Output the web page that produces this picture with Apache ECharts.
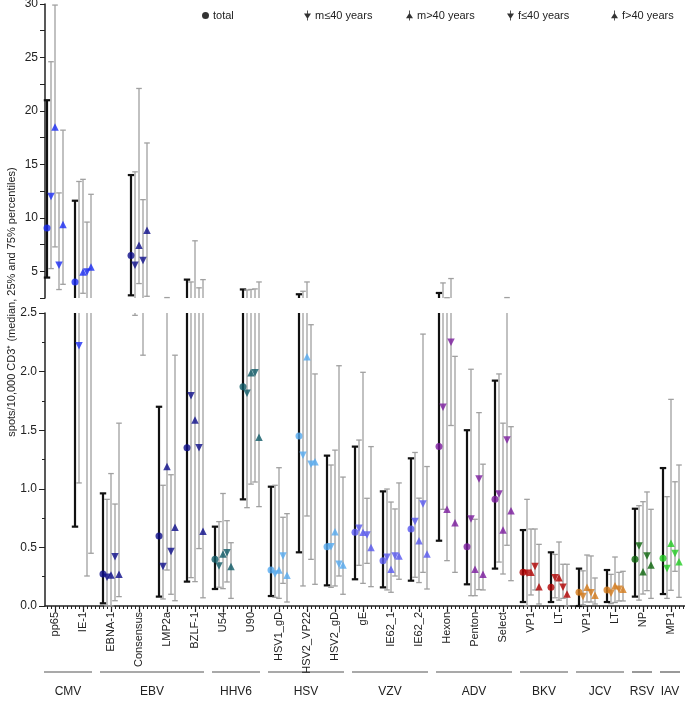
<!DOCTYPE html>
<html><head><meta charset="utf-8">
<script src="https://cdn.jsdelivr.net/npm/echarts@6/dist/echarts.min.js"></script>
<style>html,body{margin:0;padding:0;background:#fff}#c{width:685px;height:702px}</style>
</head><body><div id="c"></div>
<script>
// ---------- data ----------
const antigens = ['pp65','IE-1','EBNA-1','Consensus','LMP2a','BZLF-1','U54','U90','HSV1_gD','HSV2_VP22','HSV2_gD','gE','IE62_1','IE62_2','Hexon','Penton','Select','VP1','LT','VP1','LT','NP','MP1'];
const antigenVirus = [0,0,1,1,1,1,2,2,3,3,3,4,4,4,5,5,5,6,6,7,7,8,9];
const virusNames = ['CMV','EBV','HHV6','HSV','VZV','ADV','BKV','JCV','RSV','IAV'];
const groupNames = ['total','m≤40 years','m>40 years','f≤40 years','f>40 years'];

const medTotal = [9.05,4.0,0.273,6.47,0.597,1.35,0.398,1.871,0.307,1.45,0.506,0.629,0.387,0.657,1.36,0.506,0.91,0.287,0.159,0.117,0.137,0.398,0.407];
const medM40   = [12.0,2.22,0.245,5.56,0.336,1.795,0.341,1.815,0.273,1.286,0.506,0.663,0.415,0.72,1.695,0.742,0.956,0.279,0.242,0.08,0.108,0.512,0.321];
const medM41   = [18.5,4.94,0.265,7.44,1.19,1.587,0.444,1.99,0.307,2.127,0.634,0.629,0.313,0.557,0.825,0.313,0.648,0.287,0.242,0.159,0.173,0.293,0.535];
const medF40   = [5.56,4.94,0.42,6.0,0.464,1.35,0.455,1.99,0.427,1.209,0.356,0.606,0.427,0.87,2.25,1.084,1.416,0.336,0.159,0.114,0.142,0.427,0.449];
const medF41   = [9.37,5.4,0.27,8.84,0.671,0.637,0.336,1.44,0.262,1.23,0.35,0.50,0.427,0.444,0.711,0.27,0.813,0.165,0.102,0.091,0.142,0.35,0.378];

const q25Total = [4.41,0.677,0.023,2.75,0.08,0.208,0.145,0.91,0.085,0.458,0.176,0.228,0.159,0.216,0.557,0.185,0.319,0.034,0.034,0.0,0.034,0.08,0.102];
const q25M40   = [5.25,1.05,0.0,2.48,0.06,0.242,0.16,0.839,0.074,0.171,0.159,0.347,0.137,0.245,0.825,0.088,0.375,0.0,0.07,0.01,0.02,0.05,0.065];
const q25M41   = [7.28,2.94,0.0,3.85,0.307,0.208,0.148,1.04,0.065,0.768,0.171,0.193,0.117,0.20,0.387,0.088,0.273,0.094,0.05,0.034,0.03,0.102,0.134];
const q25F40   = [3.29,0.256,0.045,2.14,0.10,0.49,0.205,1.058,0.193,0.398,0.256,0.364,0.256,0.287,1.54,0.14,0.518,0.137,0.065,0.034,0.043,0.131,0.296];
const q25F41   = [3.78,0.45,0.08,2.66,0.045,0.07,0.065,0.848,0.034,0.185,0.10,0.165,0.228,0.145,0.287,0.137,0.216,0.017,0.0,0.017,0.043,0.065,0.074];

const q75Total = [21.0,11.6,0.961,14.0,1.70,4.22,0.677,3.3,1.018,2.85,1.283,1.36,0.978,1.26,2.97,1.50,1.923,0.648,0.458,0.319,0.307,0.83,1.177];
const q75M40   = [24.6,13.4,0.91,14.3,1.03,4.0,0.72,3.25,1.03,3.13,1.203,1.416,0.998,1.31,3.91,2.02,1.98,0.91,0.44,0.30,0.27,0.856,0.933];
const q75M41   = [29.9,13.6,1.13,22.1,2.54,7.85,0.96,3.3,1.18,4.0,1.33,1.994,0.887,0.92,2.53,0.74,1.56,0.657,0.546,0.435,0.418,0.89,1.763];
const q75F40   = [12.33,9.6,0.87,11.7,1.12,3.45,0.728,3.35,0.757,2.40,2.05,0.919,0.828,2.32,4.32,1.65,2.54,0.657,0.356,0.427,0.287,0.973,1.06];
const q75F41   = [18.2,12.2,1.56,17.0,2.14,4.22,0.54,4.0,0.788,1.98,1.10,1.36,1.05,1.19,2.13,1.21,1.53,0.526,0.356,0.239,0.296,0.825,1.203];

const upperTicks = [2.5, 30];   // upper panel range
const lowerTicks = [0, 2.5];    // lower panel range

// ---------- styles ----------
const virusColors = ['#1a2cf5','#0c0c8a','#0e5a66','#55aaf0','#5757f0','#7a1a9e','#b00000','#d47a1a','#0b640b','#22cc22'];
const FONT = 'Arial, "Liberation Sans", Helvetica, sans-serif';
const medians = [medTotal, medM40, medM41, medF40, medF41];
const q25s = [q25Total, q25M40, q25M41, q25F40, q25F41];
const q75s = [q75Total, q75M40, q75M41, q75F40, q75F41];
const SLOTS = 7;
const NCAT = antigens.length * SLOTS - 1;
const cats = Array.from({length: NCAT}, (_, i) => String(i));

const chart = echarts.init(document.getElementById('c'), null, {renderer: 'canvas'});

const panels = [
  {grid: 0, xAxis: 0, min: upperTicks[0], max: upperTicks[1]},
  {grid: 1, xAxis: 1, min: lowerTicks[0], max: lowerTicks[1]}
];

const errData = [];
for (let g = 0; g < 5; g++) for (let i = 0; i < antigens.length; i++) {
  errData.push([i * SLOTS + g, q25s[g][i], q75s[g][i], g]);
}

const series = [];
panels.forEach((p, k) => {
  series.push({
    type: 'custom', name: 'err' + k, xAxisIndex: p.xAxis, yAxisIndex: k, silent: true, z: 2,
    encode: {x: 0, y: [1, 2]},
    data: errData,
    renderItem(params, api) {
      const x = api.value(0), lo = api.value(1), hi = api.value(2), g = api.value(3);
      if (hi < p.min || lo > p.max) return null;
      const clo = Math.max(lo, p.min), chi = Math.min(hi, p.max);
      const a = api.coord([x, clo]), b = api.coord([x, chi]);
      const isT = g === 0;
      const color = isT ? '#111' : '#a0a0a0';
      const w = isT ? 2.2 : 1.3;
      const cw = isT ? 3.2 : 2.8;
      const ch = [{type: 'line', shape: {x1: a[0], y1: a[1], x2: b[0], y2: b[1]}, style: {stroke: color, lineWidth: w}}];
      if (lo >= p.min) ch.push({type: 'line', shape: {x1: a[0] - cw, y1: a[1], x2: a[0] + cw, y2: a[1]}, style: {stroke: color, lineWidth: w}});
      if (hi <= p.max) ch.push({type: 'line', shape: {x1: b[0] - cw, y1: b[1], x2: b[0] + cw, y2: b[1]}, style: {stroke: color, lineWidth: w}});
      return {type: 'group', children: ch};
    }
  });
  for (let g = 0; g < 5; g++) {
    series.push({
      type: 'scatter', name: groupNames[g], xAxisIndex: p.xAxis, yAxisIndex: k, z: 5, clip: true,
      symbol: g === 0 ? 'circle' : 'triangle',
      symbolRotate: (g === 1 || g === 3) ? 180 : 0,
      symbolSize: g === 0 ? 7 : 7.5,
      itemStyle: {color: '#000'},
      data: antigens.map((a, i) => {
        const v = medians[g][i];
        const inRange = v >= p.min && v <= p.max;
        return {value: [i * SLOTS + g, inRange ? v : '-'], itemStyle: {color: virusColors[antigenVirus[i]]}};
      })
    });
  }
});

const iconDown = 'path://M0,4 L10,4 L5,12 Z M4.4,0 L5.6,0 L5.6,14 L4.4,14 Z';
const iconUp = 'path://M5,3 L10,11 L0,11 Z M4.4,0 L5.6,0 L5.6,14 L4.4,14 Z';
const legendIcons = ['circle', iconDown, iconUp, iconDown, iconUp];
const legendLeft = [202, 304, 406, 507, 611];
const legends = groupNames.map((n, g) => ({
  data: [{name: n, icon: legendIcons[g], itemStyle: {color: '#000'}}],
  left: legendLeft[g], top: 10, orient: 'horizontal',
  itemWidth: 7, itemHeight: g === 0 ? 7 : 12, itemGap: 5,
  selectedMode: false, padding: 0,
  textStyle: {fontSize: 11, color: '#222', fontFamily: FONT, padding: [0, 0, 0, -1]}
}));

const axisCol = '#222';
const option = {
  animation: false,
  backgroundColor: '#fff',
  textStyle: {fontFamily: FONT},
  legend: legends,
  grid: [
    {left: 45, top: 4, width: 640, height: 294, containLabel: false, outerBoundsMode: 'none'},
    {left: 45, top: 313, width: 640, height: 293, containLabel: false, outerBoundsMode: 'none'}
  ],
  xAxis: [
    {type: 'category', gridIndex: 0, data: cats, show: false, position: 'bottom'},
    {type: 'category', gridIndex: 1, data: cats, boundaryGap: true, position: 'bottom',
     axisLine: {show: true, lineStyle: {color: axisCol, width: 1.5}},
     axisTick: {show: true, interval: 0, alignWithLabel: true, length: 3, lineStyle: {color: axisCol}},
     axisLabel: {show: false}, splitLine: {show: false}},
    {type: 'category', gridIndex: 1, data: cats, boundaryGap: true, position: 'bottom', offset: 0,
     axisLine: {show: false},
     axisTick: {show: true, alignWithLabel: true, interval: (i) => i % SLOTS === 2, length: 6, lineStyle: {color: axisCol, width: 1.2}},
     axisLabel: {show: true, interval: (i) => i % SLOTS === 2, rotate: 90, margin: 6, fontSize: 11, color: '#222', fontFamily: FONT,
       formatter: (v, i) => antigens[Math.floor(Number(v) / SLOTS)]},
     splitLine: {show: false}}
  ],
  yAxis: [
    {type: 'value', gridIndex: 0, min: upperTicks[0], max: upperTicks[1], interval: 2.5,
     axisLine: {show: true, lineStyle: {color: axisCol, width: 1.5}},
     axisTick: {show: true, length: 5, lineStyle: {color: axisCol}},
     splitLine: {show: false},
     axisLabel: {fontSize: 12, color: '#222', fontFamily: FONT, margin: 7, padding: [2, 0, 0, 0], formatter: v => (Math.abs(v % 5) < 1e-9 ? String(v) : '')}},
    {type: 'value', gridIndex: 1, min: lowerTicks[0], max: lowerTicks[1], interval: 0.5,
     axisLine: {show: true, lineStyle: {color: axisCol, width: 1.5}},
     axisTick: {show: true, length: 6, lineStyle: {color: axisCol}},
     minorTick: {show: true, splitNumber: 2, length: 3, lineStyle: {color: axisCol}},
     splitLine: {show: false},
     axisLabel: {fontSize: 12, color: '#222', fontFamily: FONT, margin: 8, formatter: v => v.toFixed(1)}}
  ],
  series: series
};
chart.setOption(option);

// group brackets under the category labels
const groupsG = virusNames.map((name, vi) => {
  const idx = antigenVirus.map((v, i) => v === vi ? i : -1).filter(i => i >= 0);
  return {name, first: idx[0], last: idx[idx.length - 1]};
});
const yBase = chart.convertToPixel({yAxisIndex: 1}, 0);
const graphics = [];
groupsG.forEach(gr => {
  const x1 = chart.convertToPixel({xAxisIndex: 1}, gr.first * SLOTS) - 3;
  const x2 = Math.min(684, chart.convertToPixel({xAxisIndex: 1}, gr.last * SLOTS + 4) + 1);
  graphics.push({type: 'line', shape: {x1, y1: yBase + 66, x2, y2: yBase + 66}, style: {stroke: '#555', lineWidth: 1.2}, silent: true});
  graphics.push({type: 'text', x: (x1 + x2) / 2, y: yBase + 86, silent: true,
    style: {text: gr.name, fill: '#222', font: '12px ' + FONT, textAlign: 'center', textVerticalAlign: 'middle'}});
});
graphics.push({type: 'text', x: 12, y: 302, rotation: Math.PI / 2, silent: true,
  style: {text: 'spots/10,000 CD3\u207A (median, 25% and 75% percentiles)', fill: '#222', font: '11px ' + FONT, textAlign: 'center', textVerticalAlign: 'middle'}});
chart.setOption({graphic: graphics});
</script>
</body></html>
